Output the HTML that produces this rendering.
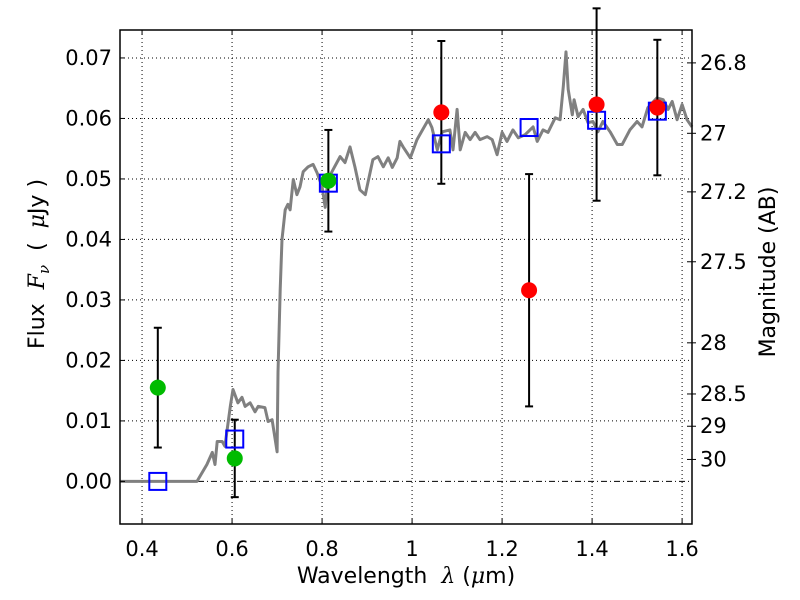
<!DOCTYPE html>
<html><head><meta charset="utf-8"><style>
body{margin:0;background:#fff;}
svg{display:block;font-family:"DejaVu Sans","Liberation Sans",sans-serif;}
</style></head><body>
<svg id="chart" width="800" height="600" xmlns="http://www.w3.org/2000/svg">
<rect x="0" y="0" width="800" height="600" fill="#fff"/>
<g id="grid"></g>
<g id="spec"></g>
<g id="marks"></g>
<g id="axes"></g>
<text x="406" y="583" font-size="22" text-anchor="middle" xml:space="preserve">Wavelength  <tspan font-style="italic" font-family="DejaVu Serif, serif">λ</tspan> (<tspan font-style="italic" font-family="DejaVu Serif, serif">μ</tspan>m)</text>
<text transform="translate(44,264) rotate(-90)" font-size="22" text-anchor="middle" xml:space="preserve">Flux  <tspan font-style="italic" font-family="DejaVu Serif, serif">F</tspan><tspan font-style="italic" font-family="DejaVu Serif, serif" font-size="15" dy="5">ν</tspan><tspan dy="-5">  (  </tspan><tspan font-style="italic" font-family="DejaVu Serif, serif">μ</tspan>Jy )</text>
<text transform="translate(775,272) rotate(-90)" font-size="22" text-anchor="middle">Magnitude (AB)</text>
</svg>
<script>
const specLam=[0.351,0.484,0.522,0.544,0.556,0.562,0.567,0.578,0.584,0.596,0.602,0.613,0.622,0.629,0.640,0.651,0.658,0.673,0.680,0.689,0.700,0.702,0.707,0.711,0.718,0.724,0.729,0.736,0.744,0.751,0.758,0.769,0.780,0.789,0.800,0.807,0.813,0.824,0.840,0.851,0.862,0.873,0.884,0.896,0.913,0.924,0.936,0.947,0.956,0.967,0.973,0.980,0.996,1.011,1.036,1.044,1.056,1.067,1.084,1.091,1.100,1.107,1.118,1.129,1.140,1.151,1.167,1.178,1.189,1.200,1.211,1.224,1.236,1.251,1.269,1.278,1.291,1.302,1.318,1.329,1.336,1.342,1.347,1.356,1.360,1.369,1.380,1.391,1.402,1.413,1.424,1.440,1.456,1.467,1.484,1.500,1.511,1.524,1.544,1.558,1.569,1.578,1.589,1.600,1.611,1.622];
const specFlux=[0,0,0,0.0028,0.0048,0.0028,0.0066,0.0066,0.0058,0.0124,0.0152,0.0130,0.0139,0.0124,0.0130,0.0115,0.0124,0.0122,0.0099,0.0102,0.0049,0.0180,0.0317,0.0400,0.0449,0.0458,0.0449,0.0499,0.0474,0.0487,0.0512,0.0520,0.0524,0.0510,0.0487,0.0453,0.0499,0.0515,0.0537,0.0527,0.0553,0.0520,0.0482,0.0474,0.0532,0.0537,0.0520,0.0535,0.0519,0.0535,0.0562,0.0553,0.0535,0.0565,0.0598,0.0585,0.0548,0.0578,0.0581,0.0548,0.0615,0.0548,0.0577,0.0565,0.0577,0.0565,0.0570,0.0565,0.0540,0.0577,0.0562,0.0581,0.0568,0.0573,0.0586,0.0562,0.0581,0.0577,0.0601,0.0598,0.0653,0.0710,0.0648,0.0606,0.0631,0.0603,0.0615,0.0593,0.0595,0.0578,0.0595,0.0578,0.0557,0.0557,0.0581,0.0595,0.0586,0.0618,0.0634,0.0631,0.0615,0.0628,0.0598,0.0623,0.0598,0.0586];
const modelLam=[0.435,0.606,0.814,1.065,1.26,1.41,1.545];
const modelFlux=[0.0,0.0070,0.0493,0.0558,0.0585,0.0597,0.0612];
const detLam=[0.435,0.606,0.814];
const detFlux=[0.0155,0.0038,0.0497];
const detErr=[0.0099,0.0064,0.0084];
const nirLam=[1.065,1.26,1.41,1.545];
const nirFlux=[0.0610,0.0316,0.0623,0.0618];
const nirErr=[0.0118,0.0192,0.0159,0.0112];
const xTicks=[0.4,0.6,0.8,1.0,1.2,1.4,1.6];
const xTickLabels=["0.4","0.6","0.8","1","1.2","1.4","1.6"];
const yTicks=[0,0.01,0.02,0.03,0.04,0.05,0.06,0.07];
const yTickLabels=["0.00","0.01","0.02","0.03","0.04","0.05","0.06","0.07"];
const magTicks=[26.8,27,27.2,27.5,28,28.5,29,30];
const magTickLabels=["26.8","27","27.2","27.5","28","28.5","29","30"];

const L=120,R=692,T=30,B=524,X0=0.351,X1=1.622,Y0=-0.00704,Y1=0.07462;
const NS="http://www.w3.org/2000/svg";
const xs=v=>L+(v-X0)/(X1-X0)*(R-L);
const ys=v=>B-(v-Y0)/(Y1-Y0)*(B-T);
function mk(tag,attrs,parent){const e=document.createElementNS(NS,tag);for(const k in attrs)e.setAttribute(k,attrs[k]);parent.appendChild(e);return e;}
const grid=document.getElementById('grid'),spec=document.getElementById('spec'),marks=document.getElementById('marks'),axes=document.getElementById('axes');

xTicks.forEach((t,i)=>{const x=xs(t);
 let g=mk('line',{x1:x,x2:x,y1:T,y2:B,stroke:'#000','stroke-width':1,'stroke-dasharray':'1,3'},grid);
 
 
 mk('line',{x1:x,x2:x,y1:B,y2:B-5,stroke:'#000','stroke-width':1},axes);
 mk('line',{x1:x,x2:x,y1:T,y2:T+5,stroke:'#000','stroke-width':1},axes);
 let tx=mk('text',{x:x,y:B+32,'font-size':21,'text-anchor':'middle'},axes);tx.textContent=xTickLabels[i];
 
 
});
yTicks.forEach((t,i)=>{const y=ys(t);
 if(t!==0){let g=mk('line',{x1:L,x2:R,y1:y,y2:y,stroke:'#000','stroke-width':1,'stroke-dasharray':'1,3'},grid);
 
 }
 mk('line',{x1:L,x2:L+5,y1:y,y2:y,stroke:'#000','stroke-width':1},axes);
 let tx=mk('text',{x:112,y:y+7,'font-size':21,'text-anchor':'end'},axes);tx.textContent=yTickLabels[i];
 
 
});
let zl=mk('line',{x1:L,x2:R,y1:ys(0),y2:ys(0),stroke:'#000','stroke-width':1,'stroke-dasharray':'6,3,1,3'},grid);



magTicks.forEach((m,i)=>{const f=Math.pow(10,(23.9-m)/2.5);const y=ys(f);
 mk('line',{x1:R-5,x2:R,y1:y,y2:y,stroke:'#000','stroke-width':1},axes);
 mk('line',{x1:R,x2:R+4,y1:y,y2:y,stroke:'#000','stroke-width':1},axes);
 let tx=mk('text',{x:R+8,y:y+7,'font-size':21},axes);tx.textContent=magTickLabels[i];
 
 
});

let pts=specLam.map((l,i)=>xs(l).toFixed(1)+','+ys(specFlux[i]).toFixed(1)).join(' ');
let pl=mk('polyline',{points:pts,fill:'none',stroke:'#808080','stroke-width':3,'stroke-linejoin':'round'},spec);



function errbar(l,f,e){const x=xs(l),y1=ys(f+e),y2=ys(f-e);
 let g=mk('g',{},marks);
 
 
 mk('line',{x1:x,x2:x,y1:y1,y2:y2,stroke:'#000','stroke-width':2},g);
 mk('line',{x1:x-4,x2:x+4,y1:y1,y2:y1,stroke:'#000','stroke-width':2},g);
 mk('line',{x1:x-4,x2:x+4,y1:y2,y2:y2,stroke:'#000','stroke-width':2},g);}
detLam.forEach((l,i)=>errbar(l,detFlux[i],detErr[i]));
nirLam.forEach((l,i)=>errbar(l,nirFlux[i],nirErr[i]));
modelLam.forEach((l,i)=>{let r=mk('rect',{x:xs(l)-8.5,y:ys(modelFlux[i])-8.5,width:17,height:17,fill:'none',stroke:'#0000ff','stroke-width':2},marks);
 
 });
detLam.forEach((l,i)=>{let c=mk('circle',{cx:xs(l),cy:ys(detFlux[i]),r:8,fill:'#00bb00'},marks);
 
 });
nirLam.forEach((l,i)=>{let c=mk('circle',{cx:xs(l),cy:ys(nirFlux[i]),r:8,fill:'#ff0000'},marks);
 
 });

let fr=mk('rect',{x:L,y:T,width:R-L,height:B-T,fill:'none',stroke:'#000','stroke-width':1.5},axes);


</script>
</body></html>
